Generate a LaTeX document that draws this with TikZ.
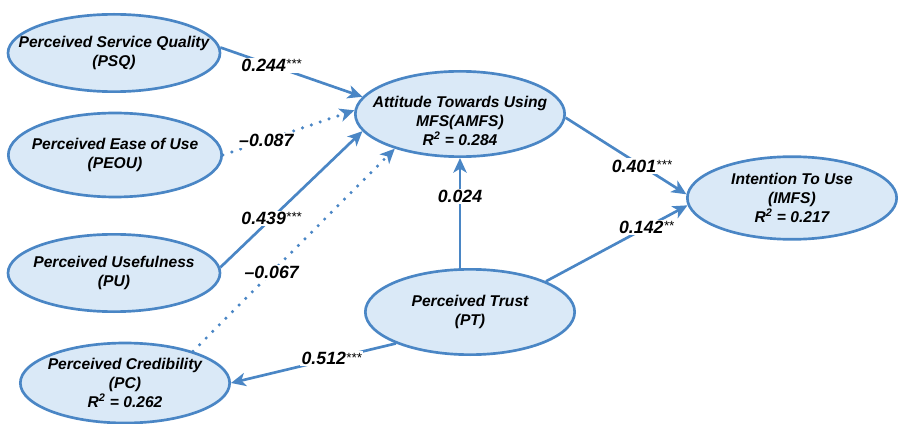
\documentclass[tikz,border=0pt]{standalone}
\usepackage{fontspec}
\setmainfont{Liberation Sans}
\usetikzlibrary{shapes.geometric, arrows.meta}
\definecolor{pathblue}{HTML}{4A86C5}
\definecolor{cellblue}{HTML}{DAE9F7}
\newcommand{\sigstars}[1]{\raisebox{2pt}{\mdseries\fontsize{10}{10}\selectfont #1}}

\begin{document}
\begin{tikzpicture}[x=0.75pt, y=-0.75pt,
    construct/.style={ellipse, draw=pathblue, fill=cellblue, line width=2pt, inner sep=0pt, minimum width=157pt, minimum height=61pt},
    nametext/.style={align=center, font=\fontsize{11.7}{14.2}\selectfont\bfseries\itshape},
    coef/.style={fill=white, inner sep=1pt, font=\fontsize{13.3}{16}\selectfont\bfseries\itshape},
    sigpath/.style={draw=pathblue, line width=2pt, -{Stealth[length=11pt, width=10pt, inset=3pt]}},
    nspath/.style={sigpath, line cap=round, dash pattern=on 0pt off 7pt, line width=2.6pt}
  ]
  \useasboundingbox (0,0) rectangle (899,424);

  % Konstrukte (links)
  \node[construct, minimum width=159pt, minimum height=58pt,
    label={[nametext]center:Perceived Service Quality\\(PSQ)}] (psq) at (114,53) {};
  \node[construct, minimum width=160pt, minimum height=63pt,
    label={[nametext]center:Perceived Ease of Use\\(PEOU)}] (peou) at (115,155) {};
  \node[construct, minimum width=159pt, minimum height=58pt,
    label={[nametext]center:Perceived Usefulness\\(PU)}] (pu) at (114,273) {};
  \node[construct, minimum height=60pt,
    label={[nametext]center:Perceived Credibility\\(PC)\\R\textsuperscript{2} = 0.262}] (pc) at (125,383) {};

  % Konstrukte (Mitte und rechts)
  \node[construct, minimum height=64pt,
    label={[nametext, yshift=-5pt]center:Attitude Towards Using\\MFS(AMFS)\\R\textsuperscript{2} = 0.284}] (amfs) at (460,114) {};
  \node[construct, minimum height=62pt,
    label={[nametext]center:Intention To Use\\(IMFS)\\R\textsuperscript{2} = 0.217}] (imfs) at (792,198) {};
  \node[construct, minimum height=64pt,
    label={[nametext]center:Perceived Trust\\(PT)}] (pt) at (470,312) {};

  % Pfade mit Koeffizienten
  \draw[sigpath] (psq.3) -- node[coef, pos=0.36] {0.244\sigstars{***}} (amfs.170);
  \draw[nspath] (peou.east) -- node[coef, pos=0.33] {–0.087} (amfs.178);
  \draw[sigpath] (pu.3) -- node[coef, pos=0.36] {0.439\sigstars{***}} (amfs.190);
  \draw[nspath] (pc.25) -- node[coef, pos=0.39] {–0.067} (amfs.208);
  \draw[sigpath] (pt.north -| amfs.south) -- node[coef, pos=0.65] {0.024} (amfs.south);
  \draw[sigpath] (amfs.-2) -- node[coef, pos=0.63] {0.401\sigstars{***}} (imfs.178);
  \draw[sigpath] (pt.22) -- node[coef, pos=0.71] {0.142\sigstars{**}} (imfs.184);
  \draw[sigpath] (pt.203) -- node[coef, pos=0.39] {0.512\sigstars{***}} (pc.east);
\end{tikzpicture}
\end{document}
